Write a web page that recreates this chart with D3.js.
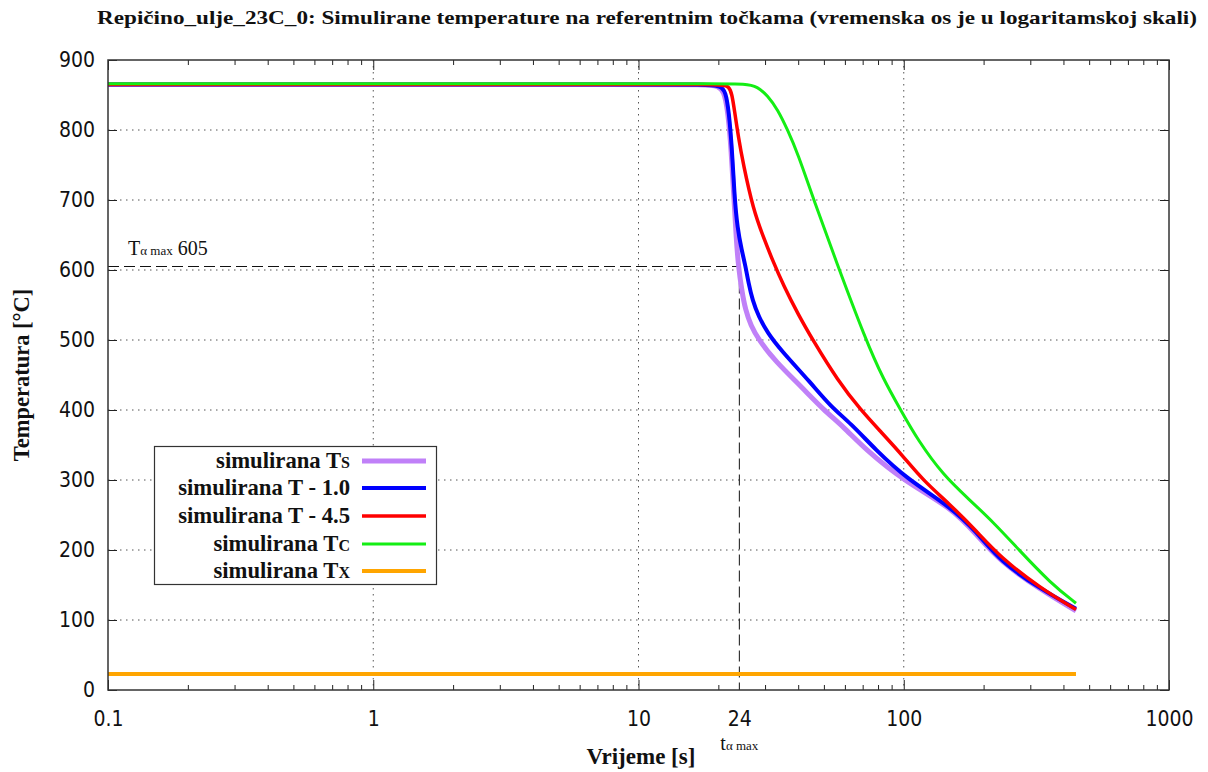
<!DOCTYPE html>
<html>
<head>
<meta charset="utf-8">
<script src="https://cdn.jsdelivr.net/npm/d3@7/dist/d3.min.js"></script>
<style>
  html, body { margin: 0; padding: 0; background: #fff; }
  svg { display: block; }
  .tick-lbl text { font-family: "DejaVu Sans Condensed", "DejaVu Sans", sans-serif; font-stretch: condensed; font-size: 21px; fill: #111; }
  .serifb { font-family: "Liberation Serif", "Times New Roman", serif; font-weight: bold; fill: #111; }
  .serif { font-family: "Liberation Serif", "Times New Roman", serif; fill: #111; }
</style>
</head>
<body>
<svg id="chart" width="1208" height="772"></svg>
<script>
// ---------------- data ----------------
const titleText = "Repičino_ulje_23C_0: Simulirane temperature na referentnim točkama (vremenska os je u logaritamskoj skali)";
const xTickLabels = [0.1, 1, 10, 24, 100, 1000];
const xTickText = ["0.1", "1", "10", "24", "100", "1000"];
const yTickValues = [0, 100, 200, 300, 400, 500, 600, 700, 800, 900];
const xGridValues = [1, 10, 100];

const seriesNames = ["Ts", "T-1.0", "T-4.5", "Tc", "Tx"];
const legendMain = ["simulirana T", "simulirana T - 1.0", "simulirana T - 4.5", "simulirana T", "simulirana T"];
const legendSub = ["S", "", "", "C", "X"];
const seriesColors = ["#c080f8", "#0000ff", "#ff0000", "#14ee14", "#ffa500"];

const tsTime = [0.1, 1, 10, 18.1, 20.0, 21.0, 21.6, 22.2, 22.8, 23.4, 23.8, 24.5, 25.3, 26.5, 28.4, 32.9, 40.9, 49.9, 59.3, 71.9, 101.7, 150.4, 187, 232, 329, 446];
const tsTemp = [865, 865, 865, 865, 863, 855, 832, 790, 714, 640, 606, 571, 543, 521, 500, 469, 434, 400, 376, 343, 297, 261, 223, 183, 143, 113];

const t10Time = [0.1, 1, 10, 18.1, 20.4, 21.3, 21.9, 22.5, 23.0, 23.6, 24.5, 25.3, 26.0, 26.9, 28.4, 30.7, 34.3, 44.6, 53.0, 63.1, 78.4, 101.7, 150.4, 187, 232, 329, 446];
const t10Temp = [865, 865, 865, 865, 863, 855, 827, 775, 705, 660, 628, 606, 581, 557, 533, 510, 486, 439, 405, 381, 343, 303, 261, 227, 183, 144, 116];

const t45Time = [0.1, 1, 10, 18.1, 21.0, 21.9, 22.5, 23.0, 23.8, 24.8, 27.1, 29.5, 32.0, 35.2, 40.2, 45.4, 56.4, 68.8, 81.9, 100, 117.9, 150.4, 187, 232, 329, 446];
const t45Temp = [865, 865, 865, 865, 864, 862, 852, 828, 790, 752, 686, 648, 614, 578, 535, 500, 442, 400, 369, 333, 300, 264, 228, 189, 145, 115];

const tcTime = [0.1, 1, 10, 20, 25.3, 28.1, 30.7, 33.5, 36.5, 39.8, 45.8, 55.4, 71.9, 84.0, 97.4, 112.9, 141.6, 174.4, 218.6, 269, 359, 446];
const tcTemp = [866, 866, 866, 866, 866, 862, 849, 829, 800, 767, 700, 614, 500, 443, 400, 357, 306, 274, 239, 202, 152, 124];

const txTime = [0.1, 446];
const txTemp = [23, 23];

const tAlphaMax = 24;
const TAlphaMax = 605;

// ---------------- layout ----------------
const svg = d3.select("#chart");
const L = 108, R = 1169, T = 60, B = 690;
const x = d3.scaleLog().domain([0.1, 1000]).range([L, R]);
const y = d3.scaleLinear().domain([0, 900]).range([B, T]);

// grid
const grid = svg.append("g").attr("stroke", "#555").attr("stroke-width", 1).attr("stroke-dasharray", "1.5,4.5");
grid.selectAll("line.h").data(yTickValues.filter(v => v > 0 && v < 900)).enter().append("line")
  .attr("x1", L).attr("x2", R).attr("y1", d => y(d)).attr("y2", d => y(d));
grid.selectAll("line.v").data(xGridValues).enter().append("line")
  .attr("y1", T).attr("y2", B).attr("x1", d => x(d)).attr("x2", d => x(d));

// ticks
const majors = [0.1, 1, 10, 100, 1000];
const minors = [];
[0.1, 1, 10, 100].forEach(d => { for (let k = 2; k <= 9; k++) minors.push(+(d * k).toPrecision(3)); });

function styleAxis(g) {
  g.select(".domain").remove();
  g.selectAll(".tick line").attr("stroke", "#222").attr("stroke-width", 1);
}
svg.append("g").attr("transform", `translate(0,${B})`).call(d3.axisBottom(x).tickValues(majors).tickSize(-10).tickFormat("")).call(styleAxis);
svg.append("g").attr("transform", `translate(0,${B})`).call(d3.axisBottom(x).tickValues(minors).tickSize(-5).tickFormat("")).call(styleAxis);
svg.append("g").attr("transform", `translate(0,${T})`).call(d3.axisTop(x).tickValues(majors).tickSize(-10).tickFormat("")).call(styleAxis);
svg.append("g").attr("transform", `translate(0,${T})`).call(d3.axisTop(x).tickValues(minors).tickSize(-5).tickFormat("")).call(styleAxis);
svg.append("g").attr("transform", `translate(${L},0)`).call(d3.axisLeft(y).tickValues(yTickValues).tickSize(-9).tickFormat("")).call(styleAxis);
svg.append("g").attr("transform", `translate(${R},0)`).call(d3.axisRight(y).tickValues(yTickValues).tickSize(-9).tickFormat("")).call(styleAxis);

// tick labels
const yLab = svg.append("g").attr("class", "tick-lbl").attr("transform", `translate(${L},0)`)
  .call(d3.axisLeft(y).tickValues(yTickValues).tickSize(0).tickPadding(13).tickFormat(d3.format("d")));
yLab.select(".domain").remove();
yLab.attr("font-size", null).attr("font-family", null);

const xLab = svg.append("g").attr("class", "tick-lbl").attr("transform", `translate(0,${B})`)
  .call(d3.axisBottom(x).tickValues(xTickLabels).tickSize(0).tickPadding(21).tickFormat((d, i) => xTickText[i]));
xLab.select(".domain").remove();
xLab.attr("font-size", null).attr("font-family", null);

// T alpha max reference lines
const ref = svg.append("g").attr("stroke", "#111").attr("stroke-width", 1).attr("stroke-dasharray", "11,5").attr("fill", "none");
ref.append("line").attr("x1", L).attr("x2", x(tAlphaMax)).attr("y1", y(TAlphaMax)).attr("y2", y(TAlphaMax));
ref.append("line").attr("x1", x(tAlphaMax)).attr("x2", x(tAlphaMax)).attr("y1", y(TAlphaMax)).attr("y2", B);

// curves
const line = d3.line().x(d => x(d[0])).y(d => y(d[1])).curve(d3.curveBasis);
const seriesData = [
  d3.zip(tsTime, tsTemp),
  d3.zip(t10Time, t10Temp),
  d3.zip(t45Time, t45Temp),
  d3.zip(tcTime, tcTemp),
  d3.zip(txTime, txTemp)
];
const widths = [5, 4, 3.5, 3, 4];
const drawOrder = [4, 0, 1, 2, 3];
drawOrder.forEach(i => {
  svg.append("path").datum(seriesData[i]).attr("d", line)
    .attr("fill", "none").attr("stroke", seriesColors[i]).attr("stroke-width", widths[i])
    .attr("stroke-linejoin", "round").attr("stroke-linecap", "butt");
});

// frame
svg.append("rect").attr("x", L).attr("y", T).attr("width", R - L).attr("height", B - T)
  .attr("fill", "none").attr("stroke", "#333").attr("stroke-width", 1.5);

// labels for T alpha max
const ta = svg.append("text").attr("class", "serif").attr("x", 128).attr("y", 255).attr("font-size", 20);
ta.append("tspan").text("T");
ta.append("tspan").attr("font-size", 13).text("α max");
ta.append("tspan").text(" 605");

const tb = svg.append("text").attr("class", "serif").attr("x", x(tAlphaMax)).attr("y", 750).attr("text-anchor", "middle").attr("font-size", 20);
tb.append("tspan").text("t");
tb.append("tspan").attr("font-size", 13).text("α max");

// legend
const lg = svg.append("g");
lg.append("rect").attr("x", 154.5).attr("y", 446.5).attr("width", 282).attr("height", 138)
  .attr("fill", "#fff").attr("stroke", "#333").attr("stroke-width", 1.2);
const rowY = [461, 488, 516, 544, 571];
seriesNames.forEach((n, i) => {
  const t = lg.append("text").attr("class", "serifb").attr("x", 350).attr("y", rowY[i] + 7)
    .attr("text-anchor", "end").attr("font-size", 22.7);
  t.append("tspan").text(legendMain[i]);
  if (legendSub[i]) t.append("tspan").attr("font-size", 16).text(legendSub[i]);
  lg.append("line").attr("x1", 362).attr("x2", 426).attr("y1", rowY[i]).attr("y2", rowY[i])
    .attr("stroke", seriesColors[i]).attr("stroke-width", widths[i]);
});

// title and axis titles
svg.append("text").attr("class", "serifb").attr("x", 647).attr("y", 24).attr("text-anchor", "middle")
  .attr("font-size", 19).attr("textLength", 1100).attr("lengthAdjust", "spacingAndGlyphs").text(titleText);
svg.append("text").attr("class", "serifb").attr("x", 641).attr("y", 764).attr("text-anchor", "middle")
  .attr("font-size", 23).text("Vrijeme [s]");
svg.append("text").attr("class", "serifb").attr("transform", `translate(29,${(T + B) / 2}) rotate(-90)`)
  .attr("text-anchor", "middle").attr("font-size", 22.5).text("Temperatura [°C]");
</script>
</body>
</html>
